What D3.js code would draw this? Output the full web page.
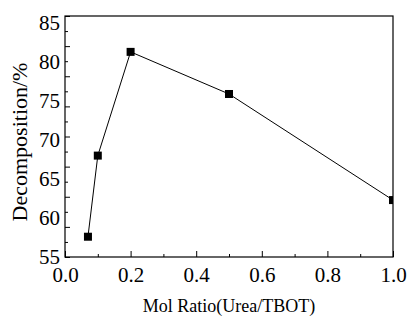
<!DOCTYPE html>
<html>
<head>
<meta charset="utf-8">
<script src="https://cdn.jsdelivr.net/npm/d3@7/dist/d3.min.js"></script>
<style>
  body { margin: 0; background: #fff; }
</style>
</head>
<body>
<div id="chart"></div>
<script>
// data
const molRatio = [0.07, 0.1, 0.2, 0.5, 1.0];
const decomposition = [57.6, 68.0, 81.3, 75.9, 62.3];
const xTickLabels = [0, 0.2, 0.4, 0.6, 0.8, 1.0];
const yTickLabels = [55, 60, 65, 70, 75, 80, 85];
const xTitle = 'Mol Ratio(Urea/TBOT)';
const yTitle = 'Decomposition/%';

const serif = "'Liberation Serif', 'Times New Roman', serif";
const width = 411, height = 318;
const margin = { top: 16, right: 18, bottom: 61, left: 65 };
const innerW = width - margin.left - margin.right;
const innerH = height - margin.top - margin.bottom;

const svg = d3.select('#chart')
  .append('svg')
  .attr('width', width)
  .attr('height', height);

const g = svg.append('g')
  .attr('transform', `translate(${margin.left},${margin.top})`);

const x = d3.scaleLinear().domain([0, 1]).range([0, innerW]);
const y = d3.scaleLinear().domain([55, 85.9]).range([innerH, 0]);

// clip so the last marker is cut at the frame
svg.append('defs').append('clipPath').attr('id', 'clip')
  .append('rect').attr('width', innerW).attr('height', innerH);

// x ticks: major every 0.2, minor every 0.1, pointing inward
const xMinor = d3.range(0, 11).map(i => i / 10);
g.append('g')
  .attr('transform', `translate(0,${innerH})`)
  .call(d3.axisBottom(x).tickValues(xMinor).tickSize(-3).tickFormat(''))
  .call(a => a.selectAll('.tick line').attr('y2', (d, i) => i % 2 === 0 ? -6 : -3))
  .call(a => a.select('.domain').remove());

g.append('g')
  .attr('transform', `translate(0,${innerH})`)
  .call(d3.axisBottom(x).tickValues(xTickLabels).tickSize(0).tickPadding(10).tickFormat(d3.format('.1f')))
  .call(a => a.select('.domain').remove())
  .call(a => a.selectAll('text')
    .attr('font-family', serif)
    .attr('font-size', 21)
    .attr('dy', '0.71em'));

// y ticks: 16 equal steps over the frame, every other one longer
const yStep = (y.domain()[1] - y.domain()[0]) / 16;
const yMinor = d3.range(0, 17).map(i => y.domain()[0] + i * yStep);
g.append('g')
  .call(d3.axisLeft(y).tickValues(yMinor).tickSize(-3).tickFormat(''))
  .call(a => a.selectAll('.tick line').attr('x2', (d, i) => i % 2 === 0 ? 5 : 3))
  .call(a => a.select('.domain').remove());

g.append('g')
  .call(d3.axisLeft(y).tickValues(yTickLabels).tickSize(0).tickPadding(5))
  .call(a => a.select('.domain').remove())
  .call(a => a.selectAll('text')
    .attr('font-family', serif)
    .attr('font-size', 21));

// frame
g.append('rect')
  .attr('width', innerW)
  .attr('height', innerH)
  .attr('fill', 'none')
  .attr('stroke', '#000')
  .attr('stroke-width', 1.2);

// series
const pts = molRatio.map((d, i) => [d, decomposition[i]]);
const plot = g.append('g').attr('clip-path', 'url(#clip)');

plot.append('path')
  .datum(pts)
  .attr('fill', 'none')
  .attr('stroke', '#000')
  .attr('stroke-width', 1)
  .attr('d', d3.line().x(d => x(d[0])).y(d => y(d[1])));

const m = 8;
plot.selectAll('.marker')
  .data(pts)
  .enter()
  .append('rect')
  .attr('class', 'marker')
  .attr('x', d => x(d[0]) - m / 2)
  .attr('y', d => y(d[1]) - m / 2)
  .attr('width', m)
  .attr('height', m)
  .attr('fill', '#000');

// titles
svg.append('text')
  .attr('x', margin.left + innerW / 2)
  .attr('y', 312)
  .attr('text-anchor', 'middle')
  .attr('font-family', serif)
  .attr('font-size', 18)
  .text(xTitle);

svg.append('text')
  .attr('transform', `translate(27,142) rotate(-90)`)
  .attr('text-anchor', 'middle')
  .attr('font-family', serif)
  .attr('font-size', 22)
  .text(yTitle);
</script>
</body>
</html>
